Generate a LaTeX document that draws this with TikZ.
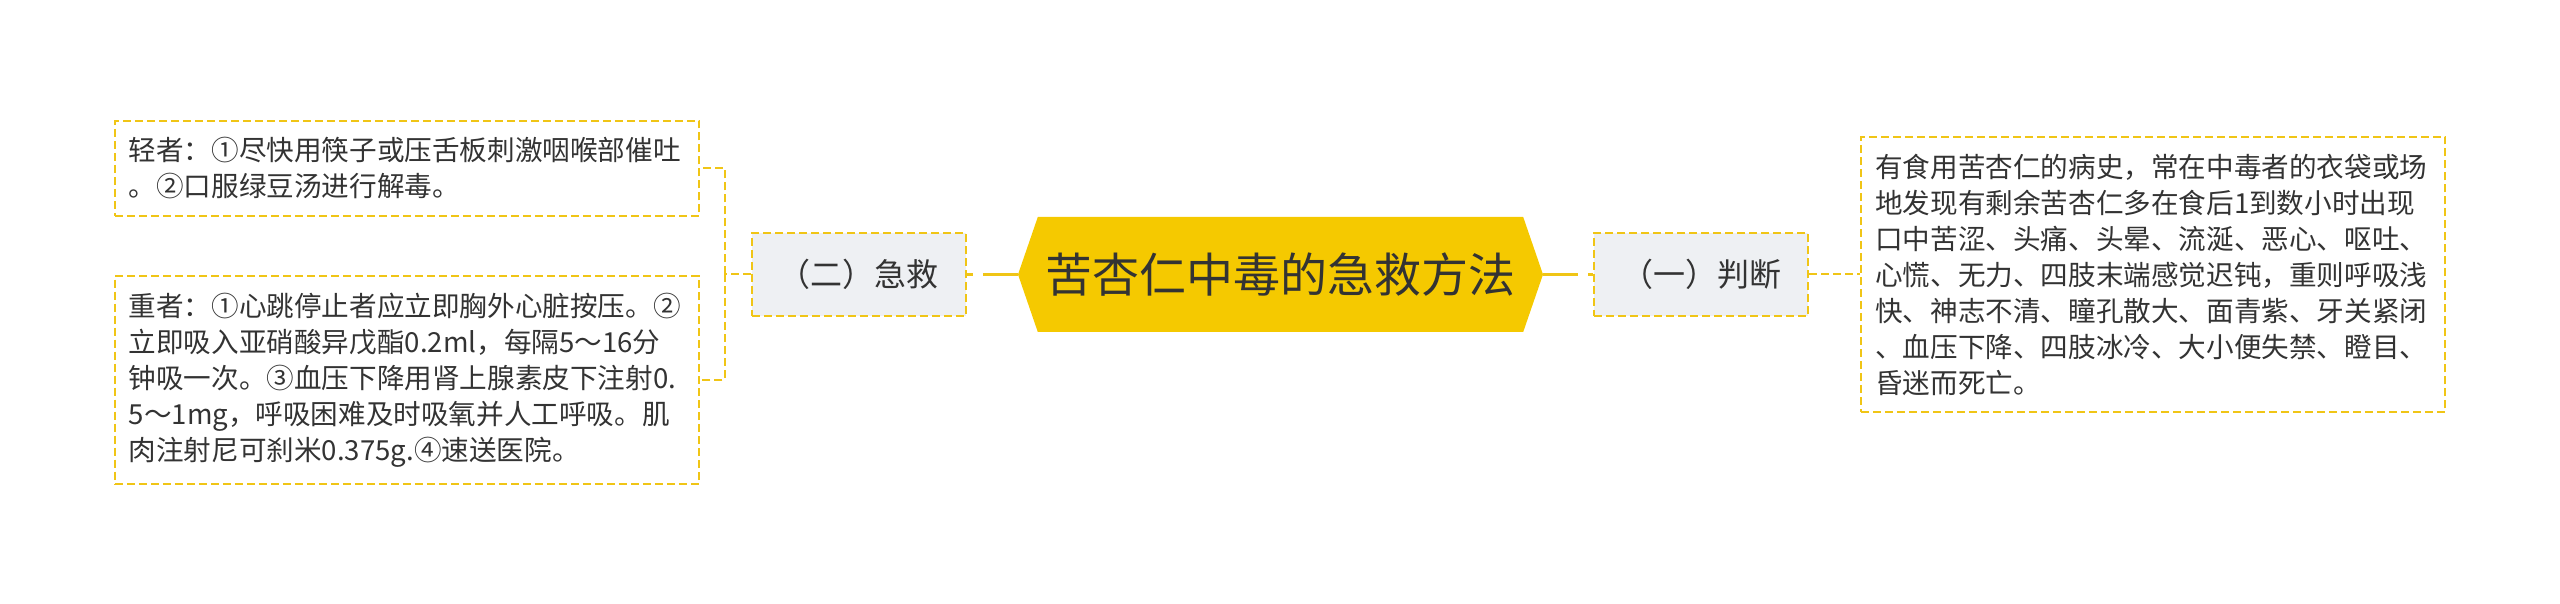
\documentclass[tikz,border=0pt]{standalone}
\usepackage{fontspec}
\usepackage{xcolor}
\usepackage{tikz}
\usetikzlibrary{positioning,shapes.symbols,calc}
\newfontfamily\cjk{Noto Sans CJK SC}
\definecolor{aidgold}{HTML}{F5C900}
\definecolor{aidline}{HTML}{F0C516}
\definecolor{aidgray}{HTML}{EEF0F3}
\definecolor{aidtext}{HTML}{333333}
\tikzset{
  aid root/.style={signal, signal to=west and east, signal pointer angle=142, fill=aidgold, text=aidtext, font=\cjk\fontsize{47}{56}\selectfont, minimum width=525pt, minimum height=115pt, inner sep=0pt},
  aid topic/.style={rectangle, draw=aidline, line width=2pt, dash pattern=on 8pt off 4pt, fill=aidgray, text=aidtext, font=\cjk\fontsize{32}{38}\selectfont, minimum width=214pt, minimum height=83pt},
  aid note/.style={rectangle, draw=aidline, line width=2pt, dash pattern=on 8pt off 4pt, text=aidtext, align=left, text width=556pt, inner xsep=14pt, inner ysep=17pt, font=\cjk\fontsize{27.6}{36}\selectfont},
  aid trunk/.style={draw=aidline, line width=3pt, dash pattern=on 35pt off 10pt on 10pt},
  aid link/.style={draw=aidline, line width=2pt, dash pattern=on 8pt off 4pt}
}
\begin{document}
\begin{tikzpicture}[x=1pt, y=1pt]
    \useasboundingbox (0,0) rectangle (2560,603);
    % centre
    \node [aid root] (hub) at (1280.5,328.5) {苦杏仁中毒的急救方法};

    % left: (二) 急救
    \node [aid topic, left=51pt of hub] (jijiu) {（二）急救};
    \node [aid note, left=51pt of jijiu, yshift=106pt] (light) {轻者：①尽快用筷子或压舌板刺激咽喉部催吐\\。②口服绿豆汤进行解毒。};
    \node [aid note, left=51pt of jijiu, yshift=-105.5pt] (heavy) {重者：①心跳停止者应立即胸外心脏按压。②\\立即吸入亚硝酸异戊酯0.2ml，每隔5～16分\\钟吸一次。③血压下降用肾上腺素皮下注射0.\\5～1mg，呼吸困难及时吸氧并人工呼吸。肌\\肉注射尼可刹米0.375g.④速送医院。};
    \draw [aid trunk] (hub.west) -- (jijiu.east);
    \draw [aid link] (jijiu.west) -- ++(-26,0) coordinate (fork);
    \draw [aid link] (fork) |- (light.east);
    \draw [aid link] (fork) |- (heavy.east);

    % right: (一) 判断
    \node [aid topic, right=50pt of hub] (panduan) {（一）判断};
    \node [aid note, right=51pt of panduan] (signs) {有食用苦杏仁的病史，常在中毒者的衣袋或场\\地发现有剩余苦杏仁多在食后1到数小时出现\\口中苦涩、头痛、头晕、流涎、恶心、呕吐、\\心慌、无力、四肢末端感觉迟钝，重则呼吸浅\\快、神志不清、瞳孔散大、面青紫、牙关紧闭\\、血压下降、四肢冰冷、大小便失禁、瞪目、\\昏迷而死亡。};
    \draw [aid trunk] (hub.east) -- (panduan.west);
    \draw [aid link] (panduan.east) -- (signs.west);
\end{tikzpicture}
\end{document}
